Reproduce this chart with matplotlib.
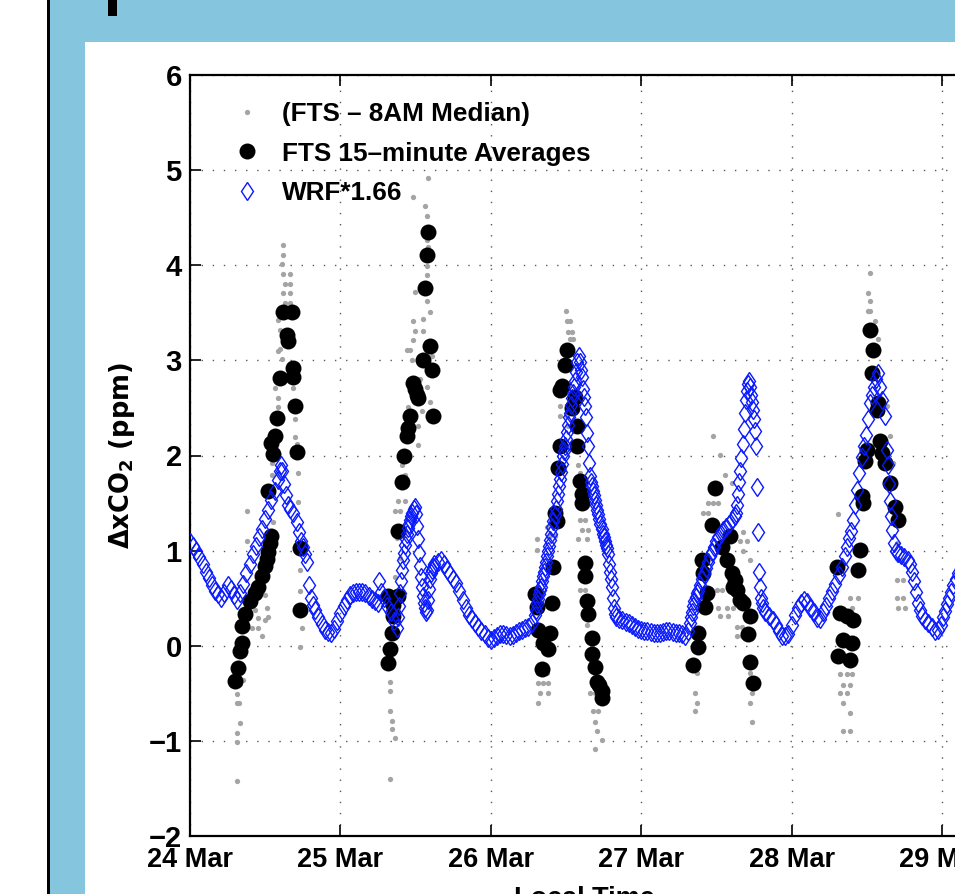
import numpy as np
import matplotlib.pyplot as plt
from matplotlib.patches import Rectangle
from matplotlib.lines import Line2D

plt.rcParams['font.family'] = ['Liberation Sans', 'DejaVu Sans']
plt.rcParams['font.weight'] = 'bold'
plt.rcParams['mathtext.fontset'] = 'dejavusans'

# ---- data (time in hours after 24 Mar 00:00 local) ----
day_labels = ['24 Mar', '25 Mar', '26 Mar', '27 Mar', '28 Mar', '29 Mar']

# WRF*1.66
wrf_h = [0.0, 0.5, 1.0, 1.5, 2.0, 2.5, 3.0, 3.5, 4.0, 4.5, 5.0, 5.5, 6.0, 6.5, 7.0, 7.5,
         8.0, 8.5, 9.0, 9.5, 10.0, 10.5, 11.0, 11.5, 12.0, 12.5, 13.0, 13.5, 14.0, 14.33, 14.5, 14.67,
         15.0, 15.33, 15.67, 16.0, 16.5, 17.0, 17.33, 17.67, 18.0, 18.33, 18.67, 19.0, 19.33, 19.67,
         20.0, 20.5, 21.0, 21.5, 22.0, 22.5, 23.0, 23.5,
         24.0, 24.5, 25.0, 25.5, 26.0, 26.5, 27.0, 27.5, 28.0, 28.5, 29.0, 29.5, 30.0, 30.17, 30.5,
         31.0, 31.5, 32.0, 32.5, 33.0, 33.17, 33.33, 33.5, 33.67, 33.83, 34.0, 34.17, 34.33, 34.5,
         34.67, 34.83, 35.0, 35.17, 35.33, 35.5, 35.67, 35.83, 36.0, 36.17, 36.33, 36.5, 36.67, 36.83,
         37.0, 37.17, 37.33, 37.5, 37.67, 37.83, 38.0, 38.17, 38.33, 38.5, 38.67, 38.83, 39.0, 39.5,
         40.0, 40.5, 41.0, 41.5, 42.0, 42.5, 43.0, 43.5, 44.0, 44.5, 45.0, 45.5, 46.0, 46.5, 47.0, 47.5,
         48.0, 48.5, 49.0, 49.5, 50.0, 50.5, 51.0, 51.5, 52.0, 52.5, 53.0, 53.5, 54.0, 54.5, 55.0,
         55.17, 55.33, 55.5, 55.67, 55.83, 56.0, 56.17, 56.33, 56.5, 56.67, 56.83, 57.0, 57.17, 57.33,
         57.5, 57.67, 57.83, 58.0, 58.17, 58.33, 58.5, 58.67, 58.83, 59.0, 59.17, 59.33, 59.5, 59.67,
         59.83, 60.0, 60.17, 60.33, 60.5, 60.67, 60.83, 61.0, 61.17, 61.33, 61.5, 61.67, 61.83, 62.0,
         62.17, 62.33, 62.5, 62.67, 62.83, 63.0, 63.17, 63.33, 63.5, 63.67, 63.83, 64.0, 64.17, 64.33,
         64.5, 64.67, 64.83, 65.0, 65.17, 65.33, 65.5, 65.67, 65.83, 66.0, 66.17, 66.33, 66.5, 66.67,
         66.83, 67.0, 67.17, 67.33, 67.5, 67.67, 67.83, 68.0, 68.5, 69.0, 69.5, 70.0, 70.5, 71.0, 71.5,
         72.0, 72.5, 73.0, 73.5, 74.0, 74.5, 75.0, 75.5, 76.0, 76.5, 77.0, 77.5, 78.0, 78.5, 79.0, 79.5,
         79.83, 80.0, 80.17, 80.33, 80.5, 80.67, 80.83, 81.0, 81.33, 81.67, 82.0, 82.33, 82.67, 83.0,
         83.33, 83.67, 84.0, 84.33, 84.67, 85.0, 85.5, 86.0, 86.5, 87.0, 87.17, 87.33, 87.5, 87.67,
         87.83, 88.0, 88.17, 88.33, 88.5, 88.67, 88.83, 89.0, 89.17, 89.33, 89.5, 89.67, 89.83, 90.0,
         90.17, 90.33, 90.5, 90.67, 90.83, 91.0, 91.17, 91.33, 91.5, 91.83, 92.33, 93.0, 93.5, 94.0,
         94.5, 95.0, 95.5,
         96.0, 96.5, 97.0, 97.5, 98.0, 98.5, 99.0, 99.5, 100.0, 100.5, 101.0, 101.5, 102.0, 102.5,
         103.0, 103.5, 104.0, 104.5, 104.83, 105.17, 105.5, 105.83, 106.17, 106.5, 106.83, 107.17,
         107.5, 107.83, 108.17, 108.5, 108.83, 109.17, 109.5, 109.83, 110.17, 110.5, 110.83, 111.17,
         111.33, 111.5, 111.67, 111.83, 112.0, 112.33, 112.67, 113.0, 113.5, 114.0, 114.5, 114.83,
         115.17, 115.5, 115.83, 116.17, 116.5, 116.83, 117.33, 117.83, 118.33, 118.83, 119.33, 119.83,
         120.17, 120.5, 120.83, 121.17, 121.5, 121.83, 122.17, 122.5, 123.0, 123.5, 124.0, 124.5,
         125.0, 125.5, 126.0]
wrf_v = [1.09, 1.05, 1.00, 0.93, 0.86, 0.78, 0.71, 0.64, 0.58, 0.54, 0.50, 0.55, 0.64, 0.60, 0.53, 0.48,
         0.55, 0.65, 0.76, 0.86, 0.96, 1.05, 1.14, 1.23, 1.33, 1.43, 1.53, 1.63, 1.74, 1.84, 1.90, 1.84,
         1.70, 1.58, 1.48, 1.44, 1.40, 1.30, 1.20, 1.10, 1.04, 0.96, 0.88, 0.64, 0.50, 0.43,
         0.38, 0.30, 0.23, 0.17, 0.14, 0.13, 0.18, 0.26,
         0.34, 0.42, 0.48, 0.53, 0.55, 0.57, 0.57, 0.56, 0.55, 0.52, 0.49, 0.47, 0.45, 0.68, 0.57,
         0.50, 0.42, 0.35, 0.26, 0.19, 0.30, 0.42, 0.55, 0.68, 0.80, 0.90, 0.98, 1.06, 1.12,
         1.18, 1.24, 1.28, 1.32, 1.36, 1.40, 1.44, 1.46, 1.38, 1.26, 1.12, 0.98, 0.84, 0.72,
         0.62, 0.52, 0.45, 0.40, 0.36, 0.38, 0.48, 0.60, 0.70, 0.76, 0.80, 0.83, 0.86, 0.88,
         0.90, 0.86, 0.80, 0.75, 0.70, 0.66, 0.58, 0.48, 0.40, 0.32, 0.28, 0.24, 0.20, 0.16, 0.12, 0.08,
         0.06, 0.08, 0.10, 0.12, 0.12, 0.11, 0.10, 0.11, 0.13, 0.15, 0.17, 0.19, 0.20, 0.24, 0.32,
         0.38, 0.44, 0.49, 0.54, 0.59, 0.62, 0.68, 0.73, 0.78, 0.83, 0.88, 0.94, 1.00, 1.05,
         1.11, 1.18, 1.25, 1.31, 1.37, 1.44, 1.52, 1.60, 1.68, 1.75, 1.83, 1.91, 1.99, 2.05,
         2.10, 2.17, 2.25, 2.32, 2.40, 2.45, 2.53, 2.60, 2.66, 2.72, 2.78, 2.88, 2.98, 3.05,
         2.98, 2.90, 2.82, 2.70, 2.62, 2.52, 2.40, 2.24, 2.10, 1.92, 1.78, 1.72, 1.68, 1.63,
         1.58, 1.53, 1.48, 1.43, 1.38, 1.33, 1.28, 1.23, 1.18, 1.14, 1.10, 1.06, 1.03, 0.96,
         0.86, 0.78, 0.70, 0.62, 0.50, 0.40, 0.33, 0.30, 0.28, 0.27, 0.25, 0.24, 0.22, 0.20, 0.18,
         0.17, 0.16, 0.15, 0.14, 0.13, 0.13, 0.13, 0.14, 0.15, 0.15, 0.14, 0.13, 0.13, 0.12, 0.10, 0.15,
         0.24, 0.30, 0.36, 0.42, 0.47, 0.51, 0.55, 0.58, 0.64, 0.70, 0.75, 0.82, 0.88, 0.94,
         0.99, 1.04, 1.10, 1.14, 1.18, 1.22, 1.25, 1.28, 1.32, 1.36, 1.40, 1.48, 1.60, 1.72,
         1.84, 1.97, 2.12, 2.28, 2.45, 2.58, 2.68, 2.75, 2.78, 2.72, 2.64, 2.56, 2.48, 2.38,
         2.26, 2.10, 1.67, 1.20, 0.78, 0.62, 0.50, 0.45, 0.40, 0.35, 0.31, 0.27, 0.22, 0.15,
         0.10, 0.10, 0.12,
         0.22, 0.32, 0.40, 0.45, 0.48, 0.46, 0.40, 0.35, 0.29, 0.28, 0.35, 0.42, 0.50, 0.58,
         0.65, 0.74, 0.83, 0.94, 1.04, 1.13, 1.21, 1.32, 1.48, 1.64, 1.82, 1.98,
         2.10, 2.22, 2.38, 2.55, 2.64, 2.72, 2.80, 2.87, 2.72, 2.58, 2.42, 2.06,
         1.90, 1.70, 1.52, 1.36, 1.22, 1.08, 1.00, 0.97, 0.95, 0.93, 0.90, 0.86,
         0.78, 0.68, 0.56, 0.45, 0.38, 0.31, 0.27, 0.24, 0.20, 0.15, 0.17, 0.22,
         0.30, 0.37, 0.44, 0.50, 0.57, 0.64, 0.70, 0.76, 0.82, 0.88, 0.92, 0.95,
         0.97, 0.98, 0.98]

# FTS 15-minute averages
fts_h = [7.19, 7.61, 7.98, 8.25, 8.25, 8.78, 9.58, 10.38, 10.91, 11.44, 11.97, 12.24, 12.51, 12.77,
         12.9, 12.51, 13.3, 13.0, 13.57, 13.84, 14.37, 14.9, 16.23, 15.43, 15.7, 16.5, 16.5, 16.76,
         17.03, 17.56, 17.56,
         31.65, 31.92, 32.19, 32.45, 32.45, 31.55, 33.25, 33.25, 33.78, 34.2, 34.58, 34.85, 35.11,
         35.64, 35.9, 36.3, 36.44, 37.24, 38.3, 38.57, 38.84, 37.5, 37.77, 38.04,
         60.1, 59.85, 59.3, 59.05, 61.44, 60.9, 61.7, 59.05, 61.7, 58.78, 62.24, 62.5, 62.5, 58.25,
         58.52, 57.98, 63.04, 63.04, 63.3, 63.57, 57.72, 55.06, 55.32, 55.59, 56.39, 57.45, 57.19,
         56.12, 64.1, 64.1, 64.63, 64.9, 65.7, 65.7, 65.2,
         83.8, 83.26, 81.67, 81.93, 82.2, 82.46, 81.13, 81.13, 80.34, 84.86, 85.66, 86.45, 86.72,
         87.25, 87.78, 88.3, 89.38, 89.1, 89.38, 89.9, 86.99, 86.19,
         108.53, 109.06, 108.8, 109.86, 109.6, 110.12, 110.39, 110.92, 111.72, 112.52, 113.05,
         107.2, 107.46, 106.93, 106.67, 103.21, 103.74, 104.8, 105.87, 104.27, 105.6, 103.47,
         105.34, 107.73, 108.0]
fts_v = [-0.37, -0.23, -0.06, 0.03, 0.21, 0.33, 0.47, 0.55, 0.62, 0.73, 0.84, 0.91, 0.99, 1.08,
         1.15, 1.63, 2.02, 2.13, 2.2, 2.39, 2.81, 3.51, 3.51, 3.27, 3.2, 2.92, 2.83, 2.52,
         2.04, 1.03, 0.38,
         -0.18, -0.03, 0.13, 0.31, 0.43, 0.52, 0.52, 1.21, 1.72, 2.0, 2.21, 2.29, 2.41,
         2.76, 2.7, 2.64, 2.6, 3.0, 3.15, 2.9, 2.41, 3.76, 4.11, 4.35,
         3.11, 2.95, 2.73, 2.69, 2.62, 2.5, 2.31, 2.1, 2.1, 1.87, 1.73, 1.6, 1.5, 1.4,
         1.31, 0.83, 0.87, 0.73, 0.47, 0.33, 0.45, 0.54, 0.41, 0.17, 0.03, 0.13, -0.03,
         -0.24, 0.08, -0.09, -0.22, -0.38, -0.48, -0.55, -0.41,
         1.66, 1.27, 0.9, 0.76, 0.41, 0.55, 0.13, -0.01, -0.2, 1.04, 0.9, 0.76, 0.62,
         0.59, 0.48, 0.45, 0.31, 0.12, -0.17, -0.39, 0.69, 1.15,
         3.32, 3.11, 2.87, 2.55, 2.48, 2.15, 2.03, 1.92, 1.71, 1.46, 1.32,
         1.57, 1.5, 1.01, 0.8, 0.83, 0.34, 0.31, 0.27, 0.06, 0.03, -0.11,
         -0.15, 1.94, 2.06]

# FTS minus 8AM median (individual soundings)
raw_h = [7.45, 7.45, 7.45, 7.98, 7.45, 7.8, 7.45, 7.72, 9.05, 9.05, 9.85, 10.91, 11.44, 10.91,
         12.24, 11.97, 14.9, 14.9, 14.63, 14.9, 15.96, 15.17, 15.96, 14.9, 15.96, 14.37, 14.63,
         14.1, 14.1, 13.04, 13.04, 13.3, 13.3, 16.76, 17.3, 17.3, 17.56, 17.56, 17.83, 17.56,
         14.1, 14.1, 14.37, 13.57, 13.84, 16.5, 16.76, 17.03, 15.96, 15.17, 10.91, 10.38, 11.97,
         12.5, 8.52, 7.98,
         38.04, 35.64, 37.77, 37.77, 37.77, 37.77, 35.9, 37.77, 38.3, 35.64, 35.9, 37.24, 35.64,
         34.58, 35.11, 35.38, 37.77, 38.3, 34.85, 36.44, 36.44, 33.78, 34.31, 33.25, 34.31, 32.72,
         33.52, 32.98, 33.52, 32.72, 31.92, 31.92, 31.92, 32.19, 32.19, 32.72, 31.92, 37.5, 37.5,
         38.04, 37.24, 38.57, 36.7, 36.97,
         60.01, 60.22, 60.64, 60.38, 60.91, 60.64, 61.18, 59.05, 59.05, 60.11, 60.38, 61.97, 62.24,
         56.92, 57.45, 58.25, 62.24, 63.04, 62.5, 63.57, 61.97, 63.3, 55.32, 55.32, 62.24, 63.04,
         63.3, 64.1, 63.84, 64.63, 55.59, 56.92, 55.59, 56.39, 57.19, 55.86, 57.19, 55.59, 64.37,
         65.17, 64.63, 64.9, 65.7, 64.63,
         83.53, 84.59, 85.39, 86.45, 82.73, 83.53, 84.33, 81.93, 82.73, 88.32, 87.78, 88.85, 88.32,
         89.38, 84.06, 84.86, 84.33, 85.66, 86.72, 84.59, 85.92, 87.25, 88.05, 87.25, 88.05, 80.87,
         80.6, 80.87, 80.6, 89.38, 89.65, 89.38, 89.65,
         108.53, 108.16, 108.53, 108.26, 108.53, 109.33, 109.86, 111.19, 111.72, 111.99, 112.25,
         112.78, 113.05, 113.58, 112.78, 113.85, 112.78, 113.85, 113.05, 114.11, 103.47, 105.34,
         106.67, 105.6, 103.74, 104.8, 105.6, 104.27, 105.34, 103.74, 104.8, 104.27, 105.34,
         104.27, 105.34]
raw_v = [-1.42, -1.01, -0.92, -0.81, -0.6, -0.6, -0.51, -0.21, 1.42, 1.1, 0.19, 0.19, 0.1, 0.29,
         0.4, 0.53, 4.21, 4.11, 4.01, 3.91, 3.91, 3.8, 3.8, 3.71, 3.71, 3.12, 3.01,
         2.6, 2.51, 1.92, 1.79, 1.3, 1.19, 2.19, 1.82, 1.51, 0.8, 0.58, 0.19, -0.01,
         3.1, 3.42, 3.32, 2.71, 2.82, 2.71, 2.38, 2.12, 3.6, 3.6, 0.73, 0.38, 0.27,
         0.3, -0.36, -0.4,
         4.92, 4.72, 4.52, 4.27, 3.99, 3.9, 3.72, 3.62, 3.51, 3.41, 3.31, 3.31, 3.21,
         3.11, 3.11, 3.0, 2.72, 2.56, 2.51, 2.31, 2.11, 1.9, 1.8, 1.52, 1.52, 1.42,
         1.42, 1.13, 0.92, 0.72, -0.38, -0.48, -0.69, -0.79, -0.87, -0.97, -1.4, 4.62, 4.39,
         4.19, 3.43, 3.05, 2.8, 2.47,
         3.52, 3.41, 3.41, 3.3, 3.3, 3.22, 3.22, 2.52, 2.41, 2.41, 2.31, 1.9, 1.82,
         1.25, 1.15, 1.15, 1.32, 1.32, 1.22, 1.22, 1.12, 1.12, 1.12, 1.01, 0.59, 0.59,
         0.22, 0.01, -0.5, -0.5, -0.29, -0.29, -0.39, -0.39, -0.39, -0.5, -0.5, -0.6, -0.69,
         -0.69, -0.8, -0.9, -0.99, -1.09,
         2.2, 2.01, 1.8, 1.71, 1.5, 1.5, 1.5, 1.4, 1.4, 1.2, 1.1, 1.1, 1.0,
         0.9, 0.59, 0.59, 0.4, 0.4, 0.4, 0.31, 0.31, 0.2, 0.2, 0.1, 0.1, -0.29,
         -0.5, -0.6, -0.69, -0.29, -0.5, -0.6, -0.8,
         3.92, 3.71, 3.62, 3.52, 3.52, 3.41, 3.22, 2.52, 2.2, 1.92, 1.92,
         1.08, 0.9, 0.9, 0.69, 0.69, 0.5, 0.5, 0.4, 0.4, 1.39, 0.5,
         0.5, 0.4, -0.3, -0.3, -0.3, -0.41, -0.41, -0.5, -0.5, -0.6, -0.71,
         -0.9, -0.9]

# ---- figure: piece of a slide ----
W, H = 955, 894
fig = plt.figure(figsize=(W / 100, H / 100), dpi=100)
fig.patches.append(Rectangle((50 / W, 0), 1, 1, transform=fig.transFigure,
                             facecolor='#86c5de', edgecolor='none', zorder=-3))
fig.patches.append(Rectangle((47 / W, 0), 2.5 / W, 1, transform=fig.transFigure,
                             facecolor='black', edgecolor='none', zorder=-2))
fig.patches.append(Rectangle((85 / W, 0), 1, 1 - 42 / H, transform=fig.transFigure,
                             facecolor='white', edgecolor='none', zorder=-2))
fig.patches.append(Rectangle((108 / W, 1 - 16 / H), 9 / W, 16 / H, transform=fig.transFigure,
                             facecolor='black', edgecolor='none', zorder=-2))

ax = fig.add_axes([190 / W, 1 - 836 / H, 789.6 / W, (836 - 75) / H])

t_raw = np.array(raw_h) / 24
t_fts = np.array(fts_h) / 24
t_wrf = np.array(wrf_h) / 24

ax.plot(t_raw, raw_v, linestyle='none', marker='o', markersize=3.8,
        color='#a4a4a4', markeredgewidth=0, zorder=2)
ax.plot(t_fts, fts_v, linestyle='none', marker='o', markersize=11.5,
        color='black', markeredgewidth=0, zorder=3)
ax.plot(t_wrf, wrf_v, linestyle='none', marker='d', markersize=9.5,
        markerfacecolor='none', markeredgecolor='#0a1aff', markeredgewidth=1.0, zorder=4)

ax.set_xlim(0, 5.25)
ax.set_ylim(-2, 6)
ax.set_xticks(range(len(day_labels)))
ax.set_xticklabels(day_labels)
ax.set_yticks(range(-2, 7))
ax.tick_params(direction='in', length=8, width=1.2, top=True, right=True,
               labelsize=19.5, pad=8)
ax.tick_params(axis='y', pad=6, labelsize=21)
for s in ax.spines.values():
    s.set_linewidth(1.6)
ax.grid(True, linestyle=(0, (1, 7)), color='0.35', linewidth=1.0)
ax.set_axisbelow(True)

ax.set_xlabel('Local Time', fontsize=19.5, fontweight='bold', labelpad=9)
ax.set_ylabel(r'$\Delta$xCO$_2$ (ppm)', fontsize=18.5, fontweight='bold',
              family='DejaVu Sans', labelpad=8)

handles = [
    Line2D([], [], linestyle='none', marker='o', markersize=3.8, color='#a4a4a4', markeredgewidth=0),
    Line2D([], [], linestyle='none', marker='o', markersize=11.5, color='black', markeredgewidth=0),
    Line2D([], [], linestyle='none', marker='d', markersize=9.5, markerfacecolor='none',
           markeredgecolor='#0a1aff', markeredgewidth=1.0),
]
labels = ['(FTS \u2013 8AM Median)', 'FTS 15\u2013minute Averages', 'WRF*1.66']
ax.legend(handles, labels, loc='upper left', bbox_to_anchor=(0.0555, 0.964), frameon=False,
          fontsize=18.8, handlelength=1.0, handletextpad=0.83, labelspacing=0.58,
          borderaxespad=0, borderpad=0)

fig.savefig('out.png', dpi=100)
